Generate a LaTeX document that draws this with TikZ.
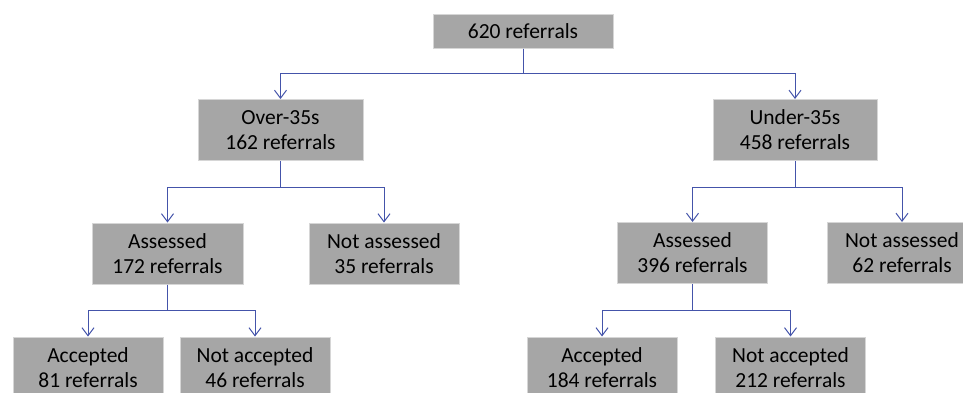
\documentclass[tikz,border=0pt]{standalone}
\usepackage{fontspec}
\setmainfont{Carlito}
\usetikzlibrary{arrows.meta}
\definecolor{boxfill}{HTML}{A6A6A6}
\definecolor{boxline}{HTML}{D6D6D6}
\definecolor{conn}{RGB}{68,84,170}
\begin{document}
\begin{tikzpicture}[x=1pt,y=-1pt,
  box/.style={draw=boxline,line width=1pt,fill=boxfill,inner sep=0pt,align=center,
    minimum width=150pt,minimum height=61pt,font=\fontsize{21.5}{25}\selectfont},
  link/.style={draw=conn,line width=1pt,-{Straight Barb[length=8pt,width=12pt,line width=1pt]}}]
\useasboundingbox (0,0) rectangle (963,392);
\clip (0,0) rectangle (963,392);
\node[box,minimum width=180pt,minimum height=34pt] (top) at (523,31) {620 referrals};
\node[box,minimum width=165pt] (over) at (280.5,130) {Over-35s\\162 referrals};
\node[box,minimum width=164pt] (under) at (795,130) {Under-35s\\458 referrals};
\node[box,minimum width=151pt] (asl) at (167.5,253.5) {Assessed\\172 referrals};
\node[box] (nasl) at (384,253.5) {Not assessed\\35 referrals};
\node[box] (asr) at (692.5,253) {Assessed\\396 referrals};
\node[box] (nasr) at (902,253) {Not assessed\\62 referrals};
\node[box] (accl) at (88,367.5) {Accepted\\81 referrals};
\node[box] (naccl) at (255,367.5) {Not accepted\\46 referrals};
\node[box] (accr) at (602,367.5) {Accepted\\184 referrals};
\node[box] (naccr) at (790.5,367.5) {Not accepted\\212 referrals};
\coordinate (j0) at (0,73);
\coordinate (j1) at (0,187);
\coordinate (j2) at (0,310);
\draw[link] (top.south) -- (top.south |- j0) -| (over.north);
\draw[link] (top.south) -- (top.south |- j0) -| (under.north);
\draw[link] (over.south) -- (over.south |- j1) -| (asl.north);
\draw[link] (over.south) -- (over.south |- j1) -| (nasl.north);
\draw[link] (under.south) -- (under.south |- j1) -| (asr.north);
\draw[link] (under.south) -- (under.south |- j1) -| (nasr.north);
\draw[link] (asl.south) -- (asl.south |- j2) -| (accl.north);
\draw[link] (asl.south) -- (asl.south |- j2) -| (naccl.north);
\draw[link] (asr.south) -- (asr.south |- j2) -| (accr.north);
\draw[link] (asr.south) -- (asr.south |- j2) -| (naccr.north);
\end{tikzpicture}
\end{document}
